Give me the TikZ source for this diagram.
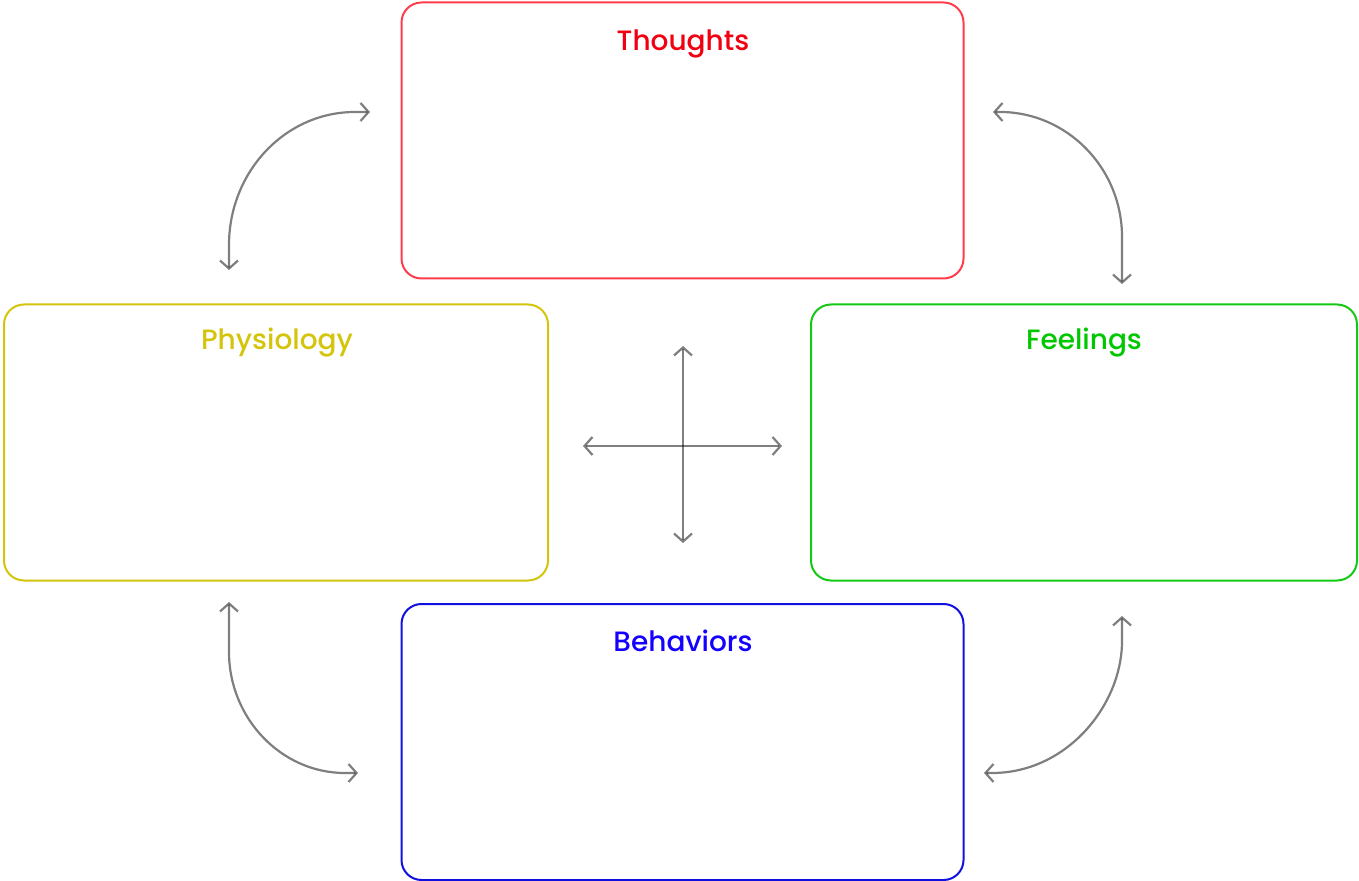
\documentclass[tikz,border=0pt]{standalone}
\usepackage{fontspec}
\setmainfont{Poppins}[UprightFont={* Medium}]
\usetikzlibrary{arrows.meta}
\definecolor{thoughtred}{HTML}{FF3C4C}
\definecolor{thoughttext}{HTML}{F00010}
\definecolor{physyellow}{HTML}{D4C40C}
\definecolor{feelgreen}{HTML}{14C814}
\definecolor{feeltext}{HTML}{00C800}
\definecolor{behavblue}{HTML}{1010E0}
\definecolor{behavtext}{HTML}{1400FF}
\tikzset{
    box/.style={draw, line width=1pt, rounded corners=10pt, minimum width=281pt, minimum height=138pt},
    title/.style={anchor=base, font=\fontsize{14}{17}\selectfont},
    conn/.style={draw=black, draw opacity=0.5, line width=1.1pt, {Straight Barb[length=4pt,width=9pt]}-{Straight Barb[length=4pt,width=9pt]}}
}

\begin{document}
\begin{tikzpicture}[x=0.5pt, y=-0.5pt]
    \useasboundingbox (0,0) rectangle (1359,881);
    %Boxes
    \node[box, draw=thoughtred] (thoughts) at (682.5,140.5) {};
    \node[box, draw=physyellow, minimum width=272pt] (physiology) at (276,442.5) {};
    \node[box, draw=feelgreen, minimum width=273pt] (feelings) at (1084,442.5) {};
    \node[box, draw=behavblue] (behaviors) at (682.5,742) {};
    %Titles
    \node[title, text=thoughttext] (thoughtstitle) at (683,51) {Thoughts};
    \node[title, text=physyellow] (physiologytitle) at (277,350) {Physiology};
    \node[title, text=feeltext] (feelingstitle) at (1084,350) {Feelings};
    \node[title, text=behavtext] (behaviorstitle) at (683,651) {Behaviors};
    %Arrow ends
    \coordinate (tlA) at (370,112);
    \coordinate (tlB) at (229,270);
    \coordinate (trA) at (993,112);
    \coordinate (trB) at (1122,284);
    \coordinate (blA) at (229,602);
    \coordinate (blB) at (358,773);
    \coordinate (brA) at (1122,616);
    \coordinate (brB) at (984,773);
    \coordinate (hub) at (683,446);
    %Curved arrows
    \draw[conn] (tlA) -- ++(-15,0) .. controls (285,112) and (229,172) .. (229,245) -- (tlB);
    \draw[conn] (trA) -- ++(7,0) .. controls (1067,112) and (1122,168) .. (1122,237) -- (trB);
    \draw[conn] (blA) -- ++(0,50) .. controls (229,718) and (281,773) .. (345,773) -- (blB);
    \draw[conn] (brA) -- ++(0,25) .. controls (1122,705) and (1067,773) .. (992,773) -- (brB);
    %Cross
    \draw[conn] (hub) ++(-100,0) -- ++(199,0);
    \draw[conn] (hub) ++(0,-100) -- ++(0,197);
\end{tikzpicture}
\end{document}
